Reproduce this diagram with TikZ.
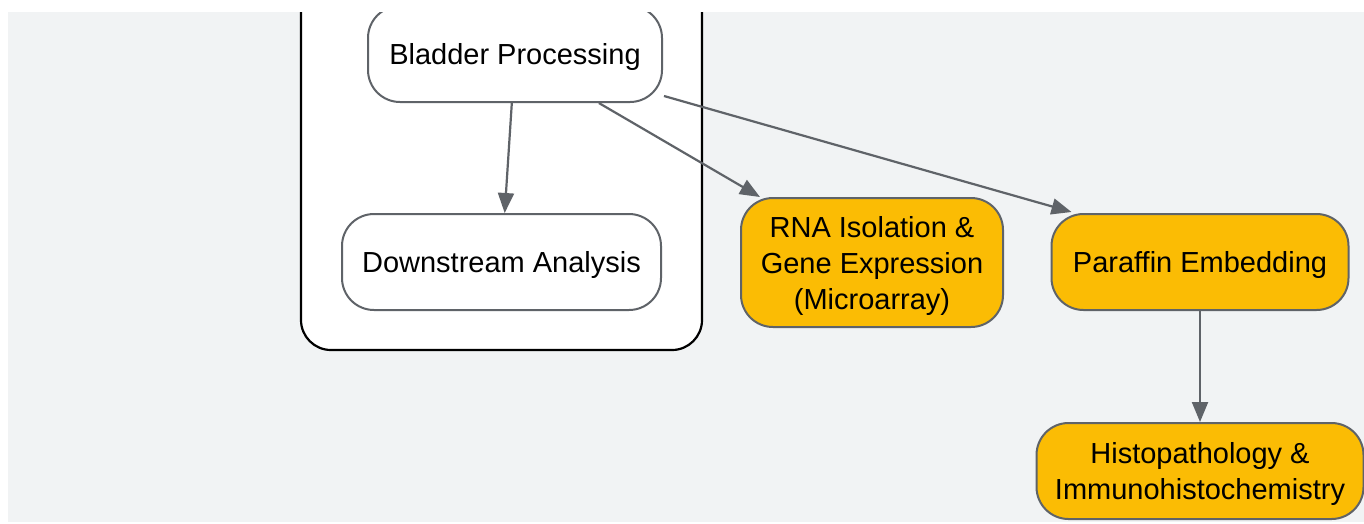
\documentclass[tikz,border=0pt]{standalone}
\usepackage{fontspec}
\setmainfont{Liberation Sans}
\usetikzlibrary{arrows.meta,calc}
\definecolor{bg}{HTML}{F1F3F4}
\definecolor{edgec}{HTML}{5F6368}
\definecolor{gold}{HTML}{FBBC04}
\begin{document}
\begin{tikzpicture}[x=1pt,y=-1pt,
 lbl/.style={align=center, font=\fontsize{29}{36}\selectfont, inner sep=0pt, yshift=-3pt},
 box/.style={draw=edgec, line width=2pt, rounded corners=32pt, inner sep=0pt},
 wbox/.style={box, fill=white, label={[lbl]center:{#1}}},
 gbox/.style={box, fill=gold, label={[lbl]center:{#1}}},
 arr/.style={draw=edgec, line width=2.2pt, -{Triangle[length=20pt,width=16pt]}},
 cluster/.style={draw=black, fill=white, line width=2.2pt, rounded corners=30pt}]
\useasboundingbox (0,0) rectangle (1364,523);
\fill[white] (0,0) rectangle (1364,523);
\begin{scope}
\clip (8,12) rectangle (1364,522);
\fill[bg] (8,12) rectangle (1364,522);
\draw[cluster] (301,-40) rectangle (702,350);
\node[wbox={Bladder Processing}, minimum width=294pt, minimum height=96pt] (bp) at (515,54) {};
\node[wbox={Downstream Analysis}, minimum width=319pt, minimum height=96pt] (da) at (501.5,262) {};
\node[gbox={RNA Isolation \&\\Gene Expression\\(Microarray)}, minimum width=262pt, minimum height=129pt] (rna) at (872,262.5) {};
\node[gbox={Paraffin Embedding}, minimum width=297pt, minimum height=96pt] (par) at (1200,262) {};
\node[gbox={Histopathology \&\\Immunohistochemistry}, minimum width=327pt, minimum height=96pt] (hist) at (1200,471) {};
\draw[arr] (bp) -- (da);
\draw[arr] (bp) -- (rna);
\draw[arr] ($(bp.south east)+(1,-7)$) -- ($(par.north west)+(21,-1)$);
\draw[arr] (par) -- (hist);
\end{scope}
\end{tikzpicture}
\end{document}
